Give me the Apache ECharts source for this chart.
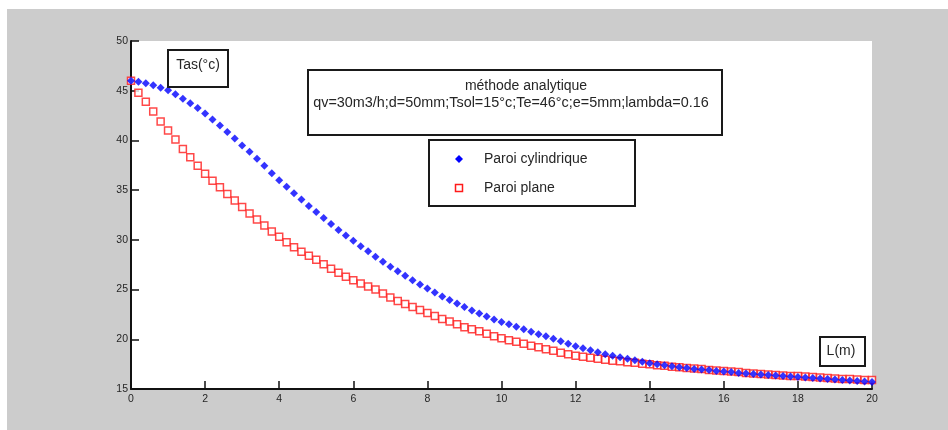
<!DOCTYPE html>
<html>
<head>
<meta charset="utf-8">
<script src="https://cdn.jsdelivr.net/npm/echarts@6/dist/echarts.min.js"></script>
<style>
    html, body { margin: 0; padding: 0; background: #fff; }
    #wrap { position: relative; width: 948px; height: 430px; }
    #bg { position: absolute; left: 7px; top: 9px; width: 941px; height: 421px; background: #cccccc; }
    #chart { position: absolute; left: 0; top: 0; width: 948px; height: 430px; }
</style>
</head>
<body>
<div id="wrap">
    <div id="bg"></div>
    <div id="chart"></div>
</div>
<script>
    // longueur L (m)
    var L = [0, 0.2, 0.4, 0.6, 0.8, 1, 1.2, 1.4, 1.6, 1.8,
        2, 2.2, 2.4, 2.6, 2.8, 3, 3.2, 3.4, 3.6, 3.8,
        4, 4.2, 4.4, 4.6, 4.8, 5, 5.2, 5.4, 5.6, 5.8,
        6, 6.2, 6.4, 6.6, 6.8, 7, 7.2, 7.4, 7.6, 7.8,
        8, 8.2, 8.4, 8.6, 8.8, 9, 9.2, 9.4, 9.6, 9.8,
        10, 10.2, 10.4, 10.6, 10.8, 11, 11.2, 11.4, 11.6, 11.8,
        12, 12.2, 12.4, 12.6, 12.8, 13, 13.2, 13.4, 13.6, 13.8,
        14, 14.2, 14.4, 14.6, 14.8, 15, 15.2, 15.4, 15.6, 15.8,
        16, 16.2, 16.4, 16.6, 16.8, 17, 17.2, 17.4, 17.6, 17.8,
        18, 18.2, 18.4, 18.6, 18.8, 19, 19.2, 19.4, 19.6, 19.8, 20];

    // Tas paroi cylindrique
    var cylindrique = [46.0, 45.9, 45.75, 45.55, 45.3, 45.05, 44.65, 44.2, 43.75, 43.25,
        42.7, 42.1, 41.5, 40.85, 40.2, 39.5, 38.85, 38.15, 37.45, 36.7,
        36.0, 35.35, 34.7, 34.05, 33.4, 32.8, 32.2, 31.6, 31.0, 30.45,
        29.9, 29.35, 28.85, 28.3, 27.8, 27.3, 26.85, 26.4, 25.95, 25.5,
        25.1, 24.7, 24.3, 23.95, 23.6, 23.25, 22.9, 22.6, 22.3, 22.0,
        21.75, 21.5, 21.25, 21.0, 20.75, 20.5, 20.3, 20.05, 19.8, 19.55,
        19.3, 19.1, 18.9, 18.7, 18.5, 18.35, 18.2, 18.05, 17.9, 17.75,
        17.6, 17.5, 17.4, 17.3, 17.2, 17.1, 17.0, 16.95, 16.9, 16.8,
        16.75, 16.7, 16.6, 16.55, 16.5, 16.45, 16.4, 16.35, 16.3, 16.25,
        16.2, 16.15, 16.1, 16.05, 16.0, 15.95, 15.9, 15.85, 15.8, 15.75, 15.7];

    // Tas paroi plane
    var plane = [46.0, 44.8, 43.9, 42.9, 41.9, 41.0, 40.1, 39.15, 38.3, 37.45,
        36.65, 35.95, 35.3, 34.6, 33.95, 33.3, 32.65, 32.05, 31.45, 30.85,
        30.3, 29.75, 29.25, 28.8, 28.4, 28.0, 27.55, 27.1, 26.7, 26.3,
        25.95, 25.6, 25.3, 25.0, 24.6, 24.2, 23.85, 23.55, 23.25, 22.95,
        22.65, 22.35, 22.05, 21.8, 21.5, 21.2, 21.0, 20.8, 20.55, 20.3,
        20.1, 19.9, 19.75, 19.55, 19.35, 19.2, 19.0, 18.85, 18.65, 18.5,
        18.35, 18.25, 18.15, 18.05, 17.95, 17.85, 17.8, 17.7, 17.65, 17.55,
        17.5, 17.4, 17.35, 17.25, 17.2, 17.1, 17.05, 17.0, 16.9, 16.85,
        16.8, 16.75, 16.7, 16.6, 16.55, 16.5, 16.45, 16.4, 16.35, 16.3,
        16.3, 16.25, 16.2, 16.15, 16.1, 16.05, 16.0, 16.0, 15.95, 15.9, 15.9];

    var titre1 = 'méthode analytique';
    var titre2 = 'qv=30m3/h;d=50mm;Tsol=15°c;Te=46°c;e=5mm;lambda=0.16';
    var noms = ['Paroi cylindrique', 'Paroi plane'];

    function pairs(ys) {
        var out = [];
        for (var i = 0; i < L.length; i++) {
            out.push([L[i], ys[i]]);
        }
        return out;
    }

    var txtColor = '#262626';
    var font = '"Liberation Sans", Arial, sans-serif';
    var boxLine = {stroke: '#1a1a1a', fill: '#fff', lineWidth: 2};

    function textBox(x, y, w, h) {
        return {type: 'rect', shape: {x: x, y: y, width: w, height: h}, style: boxLine, z: 10};
    }

    function label(txt, x, y, align, size) {
        return {
            type: 'text', z: 11, x: x, y: y,
            style: {text: txt, fill: txtColor, font: (size || 14) + 'px ' + font, align: align || 'center', verticalAlign: 'middle'}
        };
    }

    var chart = echarts.init(document.getElementById('chart'));

    chart.setOption({
        backgroundColor: 'transparent',
        animation: false,
        grid: {
            left: 131, right: 76, top: 41, bottom: 41,
            show: true, backgroundColor: '#fff', borderWidth: 0
        },
        xAxis: {
            type: 'value', min: 0, max: 20, interval: 2,
            axisLine: {onZero: false, lineStyle: {color: '#111', width: 2}},
            axisTick: {inside: true, length: 8, lineStyle: {color: '#111', width: 1.5}},
            axisLabel: {color: txtColor, fontSize: 10.5, fontFamily: font, margin: 5},
            splitLine: {show: false}
        },
        yAxis: {
            type: 'value', min: 15, max: 50, interval: 5,
            axisLine: {show: true, onZero: false, lineStyle: {color: '#111', width: 2}},
            axisTick: {show: true, inside: true, length: 8, lineStyle: {color: '#111', width: 1.5}},
            axisLabel: {color: txtColor, fontSize: 10.5, fontFamily: font, margin: 3},
            splitLine: {show: false}
        },
        series: [
            {
                name: noms[1], type: 'scatter', data: pairs(plane),
                symbol: 'rect', symbolSize: 7,
                itemStyle: {color: '#fff', borderColor: '#ff1a1a', borderWidth: 1.5},
                z: 2
            },
            {
                name: noms[0], type: 'scatter', data: pairs(cylindrique),
                symbol: 'diamond', symbolSize: 8,
                itemStyle: {color: '#0000ff'},
                z: 3
            }
        ],
        graphic: [
            textBox(168, 50, 60, 37),
            label('Tas(°c)', 198, 65),

            textBox(308, 70, 414, 65),
            label(titre1, 526, 86),
            label(titre2, 511, 103, 'center', 14.4),

            textBox(429, 140, 206, 66),
            {type: 'polygon', z: 11, shape: {points: [[459, 155], [463, 159], [459, 163], [455, 159]]}, style: {fill: '#0000ff'}},
            label(noms[0], 484, 159, 'left'),
            {type: 'rect', z: 11, shape: {x: 455.5, y: 184.5, width: 7, height: 7}, style: {fill: '#fff', stroke: '#ff1a1a', lineWidth: 1.5}},
            label(noms[1], 484, 188, 'left'),

            textBox(820, 337, 45, 29),
            label('L(m)', 841, 351)
        ]
    });
</script>
</body>
</html>
